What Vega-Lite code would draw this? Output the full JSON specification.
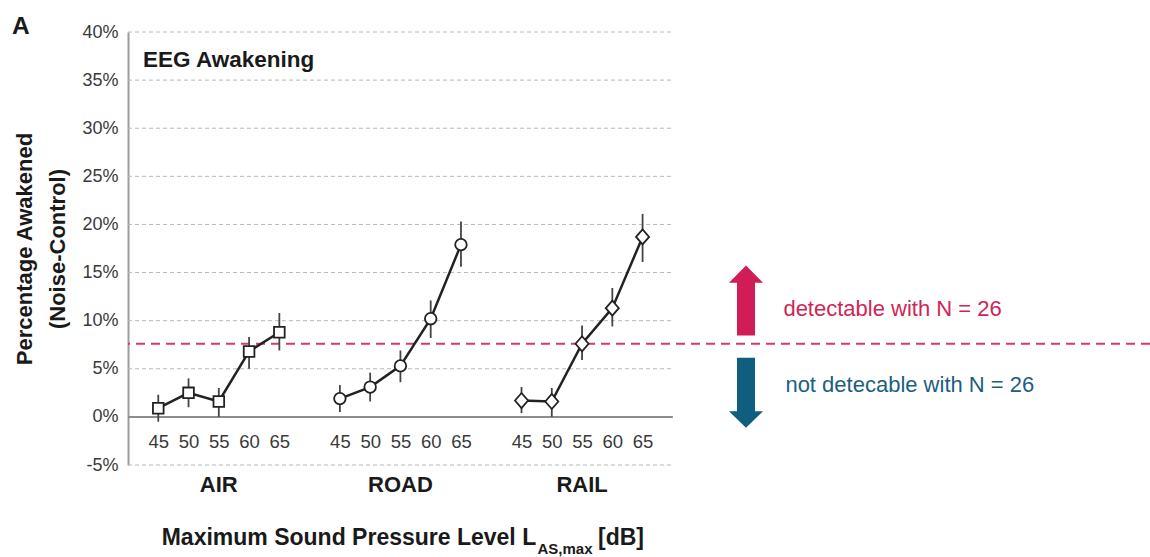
{
  "$schema": "https://vega.github.io/schema/vega-lite/v6.json",
  "autosize": {"type": "none"},
  "width": 1022,
  "height": 433,
  "padding": {"left": 128, "top": 32, "right": 0, "bottom": 92},
  "background": "white",
  "config": {"view": {"stroke": null}, "font": "Liberation Sans"},
  "datasets": {
    "awakening": [
      {"group": "AIR", "level": 45, "key": "AIR 45", "pct": 0.9, "lo": -0.5, "hi": 2.3},
      {"group": "AIR", "level": 50, "key": "AIR 50", "pct": 2.5, "lo": 1.0, "hi": 4.0},
      {"group": "AIR", "level": 55, "key": "AIR 55", "pct": 1.6, "lo": 0.0, "hi": 3.0},
      {"group": "AIR", "level": 60, "key": "AIR 60", "pct": 6.8, "lo": 5.0, "hi": 8.3},
      {"group": "AIR", "level": 65, "key": "AIR 65", "pct": 8.8, "lo": 6.9, "hi": 10.8},
      {"group": "ROAD", "level": 45, "key": "ROAD 45", "pct": 1.9, "lo": 0.5, "hi": 3.3},
      {"group": "ROAD", "level": 50, "key": "ROAD 50", "pct": 3.1, "lo": 1.6, "hi": 4.6},
      {"group": "ROAD", "level": 55, "key": "ROAD 55", "pct": 5.3, "lo": 3.6, "hi": 6.9},
      {"group": "ROAD", "level": 60, "key": "ROAD 60", "pct": 10.2, "lo": 8.2, "hi": 12.1},
      {"group": "ROAD", "level": 65, "key": "ROAD 65", "pct": 17.9, "lo": 15.6, "hi": 20.3},
      {"group": "RAIL", "level": 45, "key": "RAIL 45", "pct": 1.7, "lo": 0.4, "hi": 3.1},
      {"group": "RAIL", "level": 50, "key": "RAIL 50", "pct": 1.6, "lo": 0.0, "hi": 3.0},
      {"group": "RAIL", "level": 55, "key": "RAIL 55", "pct": 7.6, "lo": 5.9, "hi": 9.5},
      {"group": "RAIL", "level": 60, "key": "RAIL 60", "pct": 11.3, "lo": 9.4, "hi": 13.4},
      {"group": "RAIL", "level": 65, "key": "RAIL 65", "pct": 18.7, "lo": 16.1, "hi": 21.1}
    ],
    "gridlines": [
      {"pct": -5}, {"pct": 5}, {"pct": 10}, {"pct": 15}, {"pct": 20},
      {"pct": 25}, {"pct": 30}, {"pct": 35}, {"pct": 40}
    ],
    "groups": [
      {"group": "AIR", "key": "AIR 55"},
      {"group": "ROAD", "key": "ROAD 55"},
      {"group": "RAIL", "key": "RAIL 55"}
    ]
  },
  "layer": [
    {
      "data": {"name": "gridlines"},
      "mark": {"type": "rule", "stroke": "#b8b8b8", "strokeWidth": 1, "strokeDash": [4, 3]},
      "encoding": {
        "x": {
          "datum": "L", "type": "nominal",
          "scale": {
            "type": "point", "padding": 0, "range": [0, 605.4],
            "domain": ["L", "AIR 45", "AIR 50", "AIR 55", "AIR 60", "AIR 65", "g1",
                       "ROAD 45", "ROAD 50", "ROAD 55", "ROAD 60", "ROAD 65", "g2",
                       "RAIL 45", "RAIL 50", "RAIL 55", "RAIL 60", "RAIL 65", "R", "n1", "note"]
          }
        },
        "x2": {"datum": "R"},
        "y": {
          "field": "pct", "type": "quantitative",
          "title": ["Percentage Awakened", "(Noise-Control)"],
          "scale": {"domain": [-5, 40], "nice": false, "zero": false},
          "axis": {
            "values": [-5, 0, 5, 10, 15, 20, 25, 30, 35, 40],
            "labelExpr": "datum.value + '%'",
            "labelFontSize": 18, "labelColor": "#3a3a3a", "labelPadding": 10,
            "ticks": false, "grid": false,
            "domainColor": "#9c9c9c", "domainWidth": 2,
            "title": ["Percentage Awakened", "(Noise-Control)"],
            "titleFont": "Liberation Sans", "titleFontWeight": "bold",
            "titleFontSize": 22, "titleLineHeight": 33, "titleColor": "#1a1a1a",
            "titleAngle": -90, "titleAlign": "center", "titleBaseline": "alphabetic",
            "titleX": -97, "titleY": 216.5
          }
        }
      }
    },
    {
      "data": {"values": [{}]},
      "mark": {"type": "rule", "stroke": "#8c8c8c", "strokeWidth": 2},
      "encoding": {
        "x": {"datum": "L", "type": "nominal"},
        "x2": {"datum": "R"},
        "y": {"datum": 0, "type": "quantitative"}
      }
    },
    {
      "data": {"values": [{}]},
      "mark": {"type": "rule", "stroke": "#d63a6b", "strokeWidth": 2, "strokeDash": [9, 6]},
      "encoding": {
        "y": {"datum": 7.6, "type": "quantitative"}
      }
    },
    {
      "data": {"name": "awakening"},
      "mark": {"type": "rule", "stroke": "#444444", "strokeWidth": 1.8},
      "encoding": {
        "x": {
          "field": "key", "type": "nominal",
          "axis": {
            "labelExpr": "indexof(datum.value, ' ') > 0 ? split(datum.value, ' ')[1] : ''",
            "labelFontSize": 18.5, "labelColor": "#3a3a3a",
            "labelAlign": "center", "labelBaseline": "middle",
            "labelPadding": -23.3, "labelAngle": 0,
            "labelOverlap": false, "domain": false, "ticks": false, "grid": false,
            "title": null
          }
        },
        "y": {"field": "lo", "type": "quantitative"},
        "y2": {"field": "hi"}
      }
    },
    {
      "data": {"name": "awakening"},
      "mark": {"type": "line", "stroke": "#222222", "strokeWidth": 2.5},
      "encoding": {
        "x": {"field": "key", "type": "nominal"},
        "y": {"field": "pct", "type": "quantitative"},
        "detail": {"field": "group"}
      }
    },
    {
      "data": {"name": "awakening"},
      "mark": {"type": "point", "size": 225, "fill": "white", "stroke": "#222222", "strokeWidth": 1.8, "opacity": 1, "filled": false},
      "encoding": {
        "x": {"field": "key", "type": "nominal"},
        "y": {"field": "pct", "type": "quantitative"},
        "shape": {
          "field": "group", "type": "nominal", "legend": null,
          "scale": {
            "domain": ["AIR", "ROAD", "RAIL"],
            "range": [
              "M-0.71,-0.71L0.71,-0.71L0.71,0.71L-0.71,0.71Z",
              "M0.77,0A0.77,0.77,0,1,1,-0.77,0A0.77,0.77,0,1,1,0.77,0Z",
              "M-0.87,0L0,-1L0.87,0L0,1Z"
            ]
          }
        }
      }
    },
    {
      "data": {"name": "groups"},
      "mark": {"type": "text", "font": "Liberation Sans", "fontWeight": "bold", "fontSize": 22, "fill": "#1a1a1a", "align": "center", "baseline": "alphabetic", "dy": 27},
      "encoding": {
        "x": {"field": "key", "type": "nominal"},
        "y": {"datum": -5, "type": "quantitative"},
        "text": {"field": "group"}
      }
    },
    {
      "data": {"values": [{"label": "EEG Awakening"}]},
      "mark": {"type": "text", "fontWeight": "bold", "fontSize": 22.5, "fill": "#1a1a1a", "align": "left", "baseline": "alphabetic", "dx": 15, "dy": 34.7},
      "encoding": {
        "x": {"datum": "L", "type": "nominal"},
        "y": {"datum": 40, "type": "quantitative"},
        "text": {"field": "label"}
      }
    },
    {
      "data": {"values": [{"label": "A"}]},
      "mark": {"type": "text", "fontWeight": "bold", "fontSize": 24.5, "fill": "#1a1a1a", "align": "left", "baseline": "alphabetic", "dx": -116, "dy": 2.3},
      "encoding": {
        "x": {"datum": "L", "type": "nominal"},
        "y": {"datum": 40, "type": "quantitative"},
        "text": {"field": "label"}
      }
    },
    {
      "data": {"values": [{"label": "Maximum Sound Pressure Level L"}]},
      "mark": {"type": "text", "fontWeight": "bold", "fontSize": 23, "fill": "#1a1a1a", "align": "left", "baseline": "alphabetic", "dx": 33.7, "dy": 80},
      "encoding": {
        "x": {"datum": "L", "type": "nominal"},
        "y": {"datum": -5, "type": "quantitative"},
        "text": {"field": "label"}
      }
    },
    {
      "data": {"values": [{"label": "AS,max"}]},
      "mark": {"type": "text", "fontWeight": "bold", "fontSize": 15, "fill": "#1a1a1a", "align": "left", "baseline": "alphabetic", "dx": 409.5, "dy": 89},
      "encoding": {
        "x": {"datum": "L", "type": "nominal"},
        "y": {"datum": -5, "type": "quantitative"},
        "text": {"field": "label"}
      }
    },
    {
      "data": {"values": [{"label": "[dB]"}]},
      "mark": {"type": "text", "fontWeight": "bold", "fontSize": 23, "fill": "#1a1a1a", "align": "left", "baseline": "alphabetic", "dx": 470, "dy": 80},
      "encoding": {
        "x": {"datum": "L", "type": "nominal"},
        "y": {"datum": -5, "type": "quantitative"},
        "text": {"field": "label"}
      }
    },
    {
      "data": {"values": [{}]},
      "mark": {"type": "point", "shape": "M0,-1L0.486,-0.506L0.257,-0.506L0.257,1L-0.257,1L-0.257,-0.506L-0.486,-0.506Z", "size": 4900, "filled": true, "fill": "#d01d56", "strokeWidth": 0, "opacity": 1, "xOffset": 12.6},
      "encoding": {
        "x": {"datum": "note", "type": "nominal"},
        "y": {"datum": 12.1, "type": "quantitative"}
      }
    },
    {
      "data": {"values": [{}]},
      "mark": {"type": "point", "shape": "M0,1L0.486,0.523L0.257,0.523L0.257,-1L-0.257,-1L-0.257,0.523L-0.486,0.523Z", "size": 4900, "filled": true, "fill": "#0f5d7f", "strokeWidth": 0, "opacity": 1, "xOffset": 12.6},
      "encoding": {
        "x": {"datum": "note", "type": "nominal"},
        "y": {"datum": 2.5, "type": "quantitative"}
      }
    },
    {
      "data": {"values": [{"label": "detectable with N = 26"}]},
      "mark": {"type": "text", "fontSize": 22, "fill": "#cf2558", "align": "left", "baseline": "alphabetic", "dx": 50, "dy": -27.6},
      "encoding": {
        "x": {"datum": "note", "type": "nominal"},
        "y": {"datum": 7.6, "type": "quantitative"},
        "text": {"field": "label"}
      }
    },
    {
      "data": {"values": [{"label": "not detecable with N = 26"}]},
      "mark": {"type": "text", "fontSize": 22, "fill": "#1b5f80", "align": "left", "baseline": "alphabetic", "dx": 52, "dy": 48.4},
      "encoding": {
        "x": {"datum": "note", "type": "nominal"},
        "y": {"datum": 7.6, "type": "quantitative"},
        "text": {"field": "label"}
      }
    }
  ]
}
